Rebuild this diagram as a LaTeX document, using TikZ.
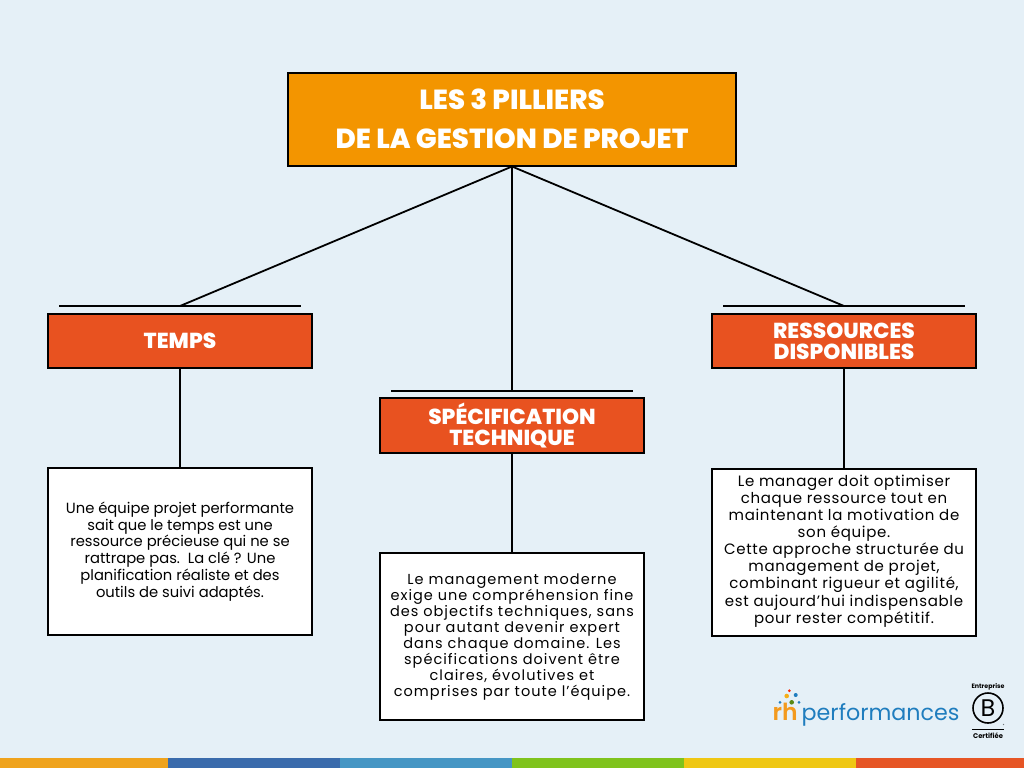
\documentclass[tikz,border=0pt]{standalone}
\usepackage{fontspec}
\setmainfont{Poppins}
\newfontfamily\heavyfont{Poppins ExtraBold}
\newfontfamily\semifont{Poppins SemiBold}
\newfontfamily\bodyfontA{Poppins}
\newfontfamily\bodyfontB[LetterSpace=7]{Poppins}
\newfontfamily\bodyfontC[LetterSpace=4.6]{Poppins}
\definecolor{bgc}{HTML}{E5F0F7}
\definecolor{titlec}{HTML}{F39500}
\definecolor{headc}{HTML}{E85220}
\definecolor{logoblue}{HTML}{1F7DBE}
\definecolor{logoorange}{HTML}{F39A1E}
\definecolor{barA}{HTML}{EFA31D}
\definecolor{barB}{HTML}{3A6BAC}
\definecolor{barC}{HTML}{4596C4}
\definecolor{barD}{HTML}{7FC31C}
\definecolor{barE}{HTML}{EFC713}
\definecolor{barF}{HTML}{E65525}
\tikzset{
  titlebox/.style={draw=black,line width=2pt,fill=titlec,text=white,minimum width=448pt,minimum height=93pt,inner sep=0pt,align=center,font=\fontsize{27.6}{39}\selectfont\heavyfont},
  headbox/.style={draw=black,line width=2pt,fill=headc,text=white,minimum width=264pt,minimum height=54.5pt,inner sep=0pt,align=center,font=\fontsize{21.7}{21}\selectfont\heavyfont},
  textbox/.style={draw=black,line width=2pt,fill=white,text=black,minimum width=264pt,inner sep=0pt,align=center},
  wire/.style={draw=black,line width=1.8pt}
}
\begin{document}
\begin{tikzpicture}[x=1pt,y=-1pt]
\useasboundingbox (0,0) rectangle (1024,768);
\fill[bgc] (0,0) rectangle (1024,768);
% boxes
\node[titlebox] (title) at (512,119) {LES 3 PILLIERS\\DE LA GESTION DE PROJET};
\node[headbox] (h1) at (180,341) {TEMPS};
\node[headbox] (h2) at (512,425.6) {SPÉCIFICATION\\TECHNIQUE};
\node[headbox] (h3) at (844,341) {RESSOURCES\\DISPONIBLES};
\node[textbox,minimum height=167pt,font=\fontsize{14.75}{16.8}\selectfont\bodyfontA] (t1) at (180,551.5) {Une équipe projet performante\\sait que le temps est une\\ressource précieuse qui ne se\\rattrape pas.\ \ La clé ? Une\\planification réaliste et des\\outils de suivi adaptés.};
\node[textbox,minimum height=167pt,font=\fontsize{14.5}{16}\selectfont\bodyfontB] (t2) at (512,636) {\rule{0pt}{13pt}Le management moderne\\exige une compréhension fine\\des objectifs techniques, sans\\pour autant devenir expert\\dans chaque domaine. Les\\spécifications doivent être\\claires, évolutives et\\comprises par toute l’équipe.};
\node[textbox,minimum height=167pt,font=\fontsize{15}{17.1}\selectfont\bodyfontC] (t3) at (844,552) {Le manager doit optimiser\\chaque ressource tout en\\maintenant la motivation de\\son équipe.\\Cette approche structurée du\\management de projet,\\combinant rigueur et agilité,\\est aujourd’hui indispensable\\\rule[-6pt]{0pt}{6pt}pour rester compétitif.};
% rules above the headers
\coordinate (r1l) at (59,306); \coordinate (r1r) at (301,306); \coordinate (r1) at (180,306);
\coordinate (r2l) at (391,391); \coordinate (r2r) at (633,391); \coordinate (r2) at (512,391);
\coordinate (r3l) at (723,306); \coordinate (r3r) at (965,306); \coordinate (r3) at (844,306);
\draw[wire] (r1l) -- (r1r);
\draw[wire] (r2l) -- (r2r);
\draw[wire] (r3l) -- (r3r);
\draw[wire] (title.south) -- (r1);
\draw[wire] (title.south) -- (r2);
\draw[wire] (title.south) -- (r3);
\draw[wire] (h1.south) -- (t1.north);
\draw[wire] (h2.south) -- (t2.north);
\draw[wire] (h3.south) -- (t3.north);
% bottom bar
\fill[barA] (0,758) rectangle (168,768);
\fill[barB] (168,758) rectangle (340,768);
\fill[barC] (340,758) rectangle (512,768);
\fill[barD] (512,758) rectangle (684,768);
\fill[barE] (684,758) rectangle (856,768);
\fill[barF] (856,758) rectangle (1024,768);
% logo
\node[anchor=base west,inner sep=0pt,text=logoorange,font=\fontsize{23.5}{24}\selectfont\semifont] (lrh) at (772.5,720.5) {rh};
\node[anchor=base west,inner sep=0pt,text=logoblue,font=\fontsize{22.2}{22}\selectfont] (lperf) at (801.5,720.5) {performances};
\fill[red!70!orange] (789.3,690.7) circle (1.5pt);
\fill[logoorange!80!yellow] (786.7,696) circle (2.3pt);
\fill[logoblue] (795.7,695) circle (2pt);
\fill[logoblue] (780,702.3) circle (1.5pt);
\fill[barD!70!black] (791.7,702.3) circle (2.3pt);
\fill[logoblue] (799,702.3) circle (1.5pt);
\node[inner sep=0pt,font=\fontsize{6.3}{6.3}\selectfont\bfseries] (bt) at (988,687) {Entreprise};
\node[circle,draw=black,line width=1.6pt,minimum size=30pt,inner sep=0pt,font=\fontsize{24}{24}\selectfont] (bc) at (988,708) {B};
\coordinate (bl) at (972,729.5); \coordinate (br) at (1004,729.5);
\draw[black,line width=1pt] (bl) -- (br);
\node[inner sep=0pt,font=\fontsize{6.8}{6.8}\selectfont\bfseries] (bb) at (988,736) {Certifiée};
\node[inner sep=0pt,font=\fontsize{3}{3}\selectfont] (breg) at (1003.5,725.5) {®};
\end{tikzpicture}
\end{document}
